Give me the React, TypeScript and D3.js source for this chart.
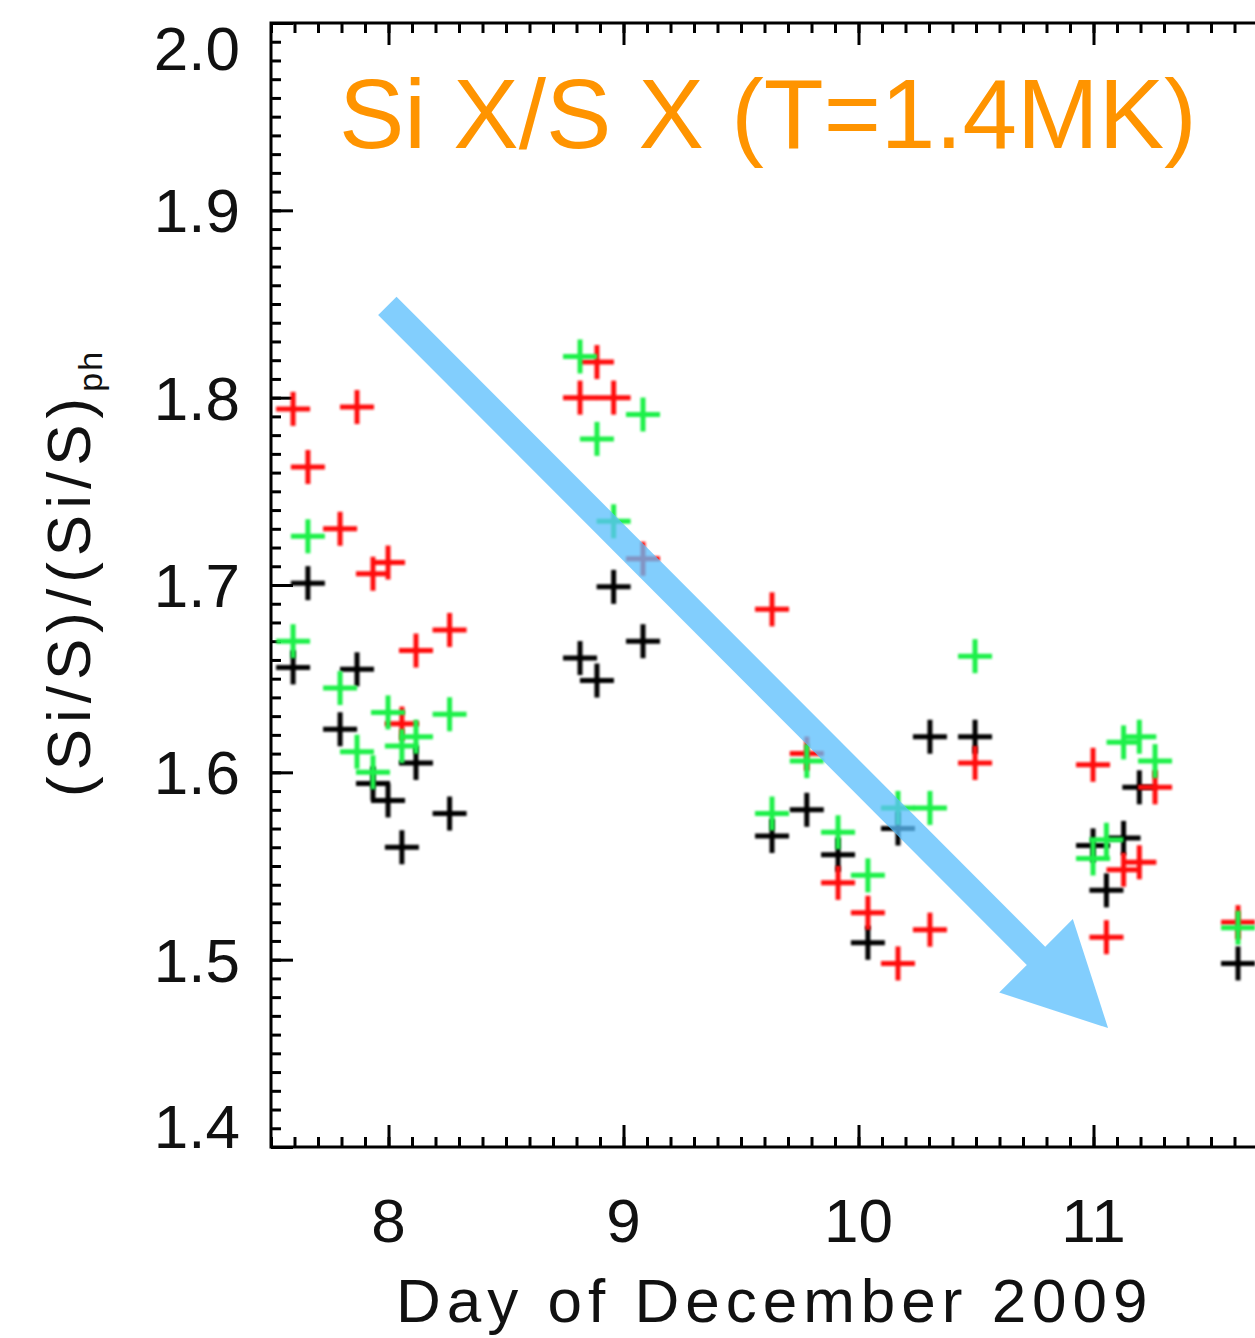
import React, { useEffect, useRef } from 'react';
import * as d3 from 'd3';

// observation times (day of December 2009), shared by the three series
const times = [
  7.594, 7.657, 7.794, 7.866, 7.934, 7.998, 8.057, 8.117, 8.26,
  8.815, 8.887, 8.958, 9.083,
  9.632, 9.78, 9.913, 10.04, 10.168, 10.304, 10.496,
  10.998, 11.055, 11.128, 11.195, 11.262, 11.615,
];
const redVals = [
  1.794, 1.763, 1.730, 1.795, 1.706, 1.712, 1.626, 1.665, 1.676,
  1.800, 1.819, 1.800, 1.714,
  1.687, 1.610, 1.541, 1.525, 1.498, 1.516, 1.605,
  1.604, 1.512, 1.548, 1.552, 1.592, 1.520,
];
const greenVals = [
  1.670, 1.726, 1.645, 1.611, 1.600, 1.632, 1.614, 1.619, 1.631,
  1.822, 1.778, 1.734, 1.791,
  1.578, 1.606, 1.568, 1.545, 1.581, 1.581, 1.662,
  1.554, 1.564, 1.616, 1.619, 1.606, 1.517,
];
const blackVals = [
  1.656, 1.701, 1.623, 1.655, 1.594, 1.585, 1.560, 1.605, 1.578,
  1.661, 1.649, 1.699, 1.670,
  1.566, 1.580, 1.556, 1.509, 1.570, 1.619, 1.619,
  1.561, 1.537, 1.565, 1.592, null, 1.498,
];

const xDomain = [7.5, 12.5];
const yDomain = [1.4, 2.0];
const xMajor = [8, 9, 10, 11, 12];
const yMajor = [1.4, 1.5, 1.6, 1.7, 1.8, 1.9, 2.0];
// the plot runs past the right edge of the picture, so "12" is not shown
const xTickLabels = ['8', '9', '10', '11'];
const yTickLabels = ['1.4', '1.5', '1.6', '1.7', '1.8', '1.9', '2.0'];

// trend arrow, in data units: [day, ratio]
const arrowFrom = [7.995, 1.849];
const arrowTo = [11.062, 1.4635];

const series = [
  { name: 'black', color: '#000000', vals: blackVals },
  { name: 'red', color: '#ff1010', vals: redVals },
  { name: 'green', color: '#1ef048', vals: greenVals },
];

const FONT = '"Liberation Sans", Arial, Helvetica, sans-serif';

export default function App() {
  const ref = useRef<SVGSVGElement>(null);

  useEffect(() => {
    const svg = d3.select(ref.current);
    svg.selectAll('*').remove();

    const left = 271, top = 23, bottom = 1147, pxPerDay = 235;
    const x = d3.scaleLinear().domain(xDomain)
      .range([left, left + pxPerDay * (xDomain[1] - xDomain[0])]);
    const y = d3.scaleLinear().domain(yDomain).range([bottom, top]);
    const right = x(xDomain[1]);

    const defs = svg.append('defs');
    defs.append('filter').attr('id', 'soft')
      .append('feGaussianBlur').attr('stdDeviation', 0.9);

    // ticks (inward, IDL style)
    const minorY = d3.range(1400, 2001, 10).map(v => v / 1000);
    const minorX = d3.range(75, 126, 1).map(v => v / 10);
    const strip = (g: any) => {
      g.select('.domain').remove();
      g.selectAll('line').attr('stroke', '#000').attr('stroke-width', 3);
    };
    svg.append('g').attr('transform', `translate(${left},0)`)
      .call(d3.axisLeft(y).tickValues(minorY).tickSize(-10).tickFormat(() => '')).call(strip);
    svg.append('g').attr('transform', `translate(${left},0)`)
      .call(d3.axisLeft(y).tickValues(yMajor).tickSize(-22).tickFormat(() => '')).call(strip);
    svg.append('g').attr('transform', `translate(0,${bottom})`)
      .call(d3.axisBottom(x).tickValues(minorX).tickSize(-10).tickFormat(() => '')).call(strip);
    svg.append('g').attr('transform', `translate(0,${bottom})`)
      .call(d3.axisBottom(x).tickValues(xMajor).tickSize(-22).tickFormat(() => '')).call(strip);
    svg.append('g').attr('transform', `translate(0,${top})`)
      .call(d3.axisTop(x).tickValues(minorX).tickSize(-10).tickFormat(() => '')).call(strip);
    svg.append('g').attr('transform', `translate(0,${top})`)
      .call(d3.axisTop(x).tickValues(xMajor).tickSize(-22).tickFormat(() => '')).call(strip);

    svg.append('rect')
      .attr('x', left).attr('y', top)
      .attr('width', right - left).attr('height', bottom - top)
      .attr('fill', 'none').attr('stroke', '#000').attr('stroke-width', 3);

    // tick labels
    svg.append('g').selectAll('text').data(yMajor).enter().append('text')
      .attr('x', 240)
      .attr('y', (d) => Math.max(top + 47, Math.min(bottom + 1, y(d) + 22)))
      .attr('text-anchor', 'end')
      .style('font-family', FONT).style('font-size', '62px').style('fill', '#111')
      .text((d, i) => yTickLabels[i]);

    svg.append('g').selectAll('text').data(xTickLabels).enter().append('text')
      .attr('x', (d, i) => x(xMajor[i]))
      .attr('y', 1242)
      .attr('text-anchor', 'middle')
      .style('font-family', FONT).style('font-size', '62px').style('fill', '#111')
      .text((d) => d);

    // axis titles
    svg.append('text')
      .attr('x', 396).attr('y', 1322)
      .style('font-family', FONT).style('font-size', '62px').style('fill', '#111')
      .style('letter-spacing', '6px')
      .text('Day of December 2009');

    const yl = svg.append('text')
      .attr('transform', 'translate(90,797) rotate(-90)')
      .style('font-family', FONT).style('font-size', '62px').style('fill', '#111')
      .style('letter-spacing', '6px');
    yl.append('tspan').text('(Si/S)/(Si/S)');
    yl.append('tspan').attr('dy', 12).style('font-size', '34px')
      .style('letter-spacing', '2px').text('ph');

    // data crosses
    const arm = 17;
    series.forEach((s) => {
      const pts = times.map((t, i) => [t, s.vals[i]]).filter((p) => p[1] != null);
      const g = svg.append('g').attr('filter', 'url(#soft)');
      const c = g.selectAll('g').data(pts).enter().append('g')
        .attr('transform', (d: any) => `translate(${x(d[0])},${y(d[1])})`);
      c.append('line').attr('x1', -arm).attr('x2', arm)
        .attr('stroke', s.color).attr('stroke-width', 5);
      c.append('line').attr('y1', -arm).attr('y2', arm)
        .attr('stroke', s.color).attr('stroke-width', 5);
    });

    // trend arrow
    const x0 = x(arrowFrom[0]), y0 = y(arrowFrom[1]);
    const x1 = x(arrowTo[0]), y1 = y(arrowTo[1]);
    const len = Math.hypot(x1 - x0, y1 - y0);
    const ux = (x1 - x0) / len, uy = (y1 - y0) / len;
    const nx = -uy, ny = ux;
    const headLen = 102, headHalf = 52, shaftHalf = 13;
    const bx = x1 - ux * headLen, by = y1 - uy * headLen;
    const poly = [
      [x0 + nx * shaftHalf, y0 + ny * shaftHalf],
      [bx + nx * shaftHalf, by + ny * shaftHalf],
      [bx + nx * headHalf, by + ny * headHalf],
      [x1, y1],
      [bx - nx * headHalf, by - ny * headHalf],
      [bx - nx * shaftHalf, by - ny * shaftHalf],
      [x0 - nx * shaftHalf, y0 - ny * shaftHalf],
    ];
    svg.append('path')
      .attr('d', d3.line()(poly as [number, number][]) + 'Z')
      .attr('fill', '#5bbefc').attr('fill-opacity', 0.76);

    // title
    svg.append('text')
      .attr('x', 339).attr('y', 148)
      .style('font-family', FONT).style('font-size', '98px').style('fill', '#ff9400')
      .text('Si X/S X (T=1.4MK)');
  }, []);

  return (
    <svg ref={ref} width={1255} height={1338}
      style={{ position: 'absolute', left: 0, top: 0, background: '#fff' }} />
  );
}
